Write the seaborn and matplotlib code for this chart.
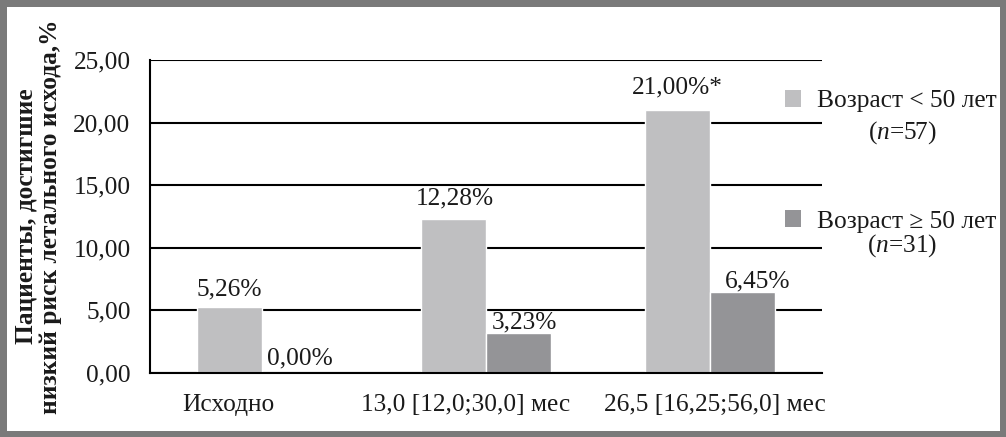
import pandas as pd
import seaborn as sns
import matplotlib.pyplot as plt
from matplotlib.patches import Patch
from matplotlib.ticker import FuncFormatter, MultipleLocator
from matplotlib.transforms import ScaledTranslation

# data
categories = ['Исходно', '13,0 [12,0;30,0] мес', '26,5 [16,25;56,0] мес']
young = [5.26, 12.28, 21.00]
old = [0.00, 3.23, 6.45]
young_labels = ['5,26%', '12,28%', '21,00%*']
old_labels = ['0,00%', '3,23%', '6,45%']
groups = ['Возраст < 50 лет', 'Возраст ≥ 50 лет']
group_n = ['57', '31']

# label offsets (points) as placed in the original
young_off = [(0, 8.6), (1, 10.8), (0, 12.2)]
old_off = [(4, 5.8), (4, 2.9), (11, 3.6)]
# category labels sit a bit off-centre in the original (pixels)
xlabel_shift = [-34, -20, 5]

LIGHT = '#bfbfc1'
DARK = '#949497'
TEXT = '#1a1a1a'
FONT = 18.3

sns.set_theme(style='white')
plt.rcParams['font.family'] = ['Liberation Serif', 'DejaVu Serif']
plt.rcParams['mathtext.fontset'] = 'custom'
plt.rcParams['mathtext.it'] = 'Liberation Serif:italic'
plt.rcParams['mathtext.rm'] = 'Liberation Serif'

df = pd.DataFrame({
    'Период': categories * 2,
    'Значение': young + old,
    'Группа': [groups[0]] * 3 + [groups[1]] * 3,
})

fig = plt.figure(figsize=(10.06, 4.37), dpi=100, linewidth=8, edgecolor='#7a7a7a')
ax = fig.add_axes([150 / 1006, 1 - 373 / 437, 672 / 1006, 313 / 437])

sns.barplot(data=df, x='Период', y='Значение', hue='Группа', hue_order=groups,
            palette=[LIGHT, DARK], width=0.58, gap=0, saturation=1,
            legend=False, ax=ax)

ax.set_ylim(0, 25)
ax.yaxis.set_major_locator(MultipleLocator(5))
ax.yaxis.set_major_formatter(FuncFormatter(lambda v, p: f'{v:.2f}'.replace('.', ',')))
ax.set_axisbelow(True)
ax.grid(axis='y', color='black', linewidth=1.5)
ax.grid(axis='x', visible=False)
for side in ['top', 'right']:
    ax.spines[side].set_visible(False)
for side in ['left', 'bottom']:
    ax.spines[side].set_color('black')
    ax.spines[side].set_linewidth(1.5)
ax.tick_params(axis='y', length=0, pad=14, labelsize=FONT, labelcolor=TEXT)
ax.tick_params(axis='x', length=0, pad=15, labelsize=FONT, labelcolor=TEXT)
for lbl, dx in zip(ax.get_xticklabels(), xlabel_shift):
    lbl.set_transform(lbl.get_transform() + ScaledTranslation(dx / 100, 0, fig.dpi_scale_trans))
ax.set_xlabel('')
ax.set_ylabel('Пациенты, достигшие\nнизкий риск летального исхода,%',
              fontsize=FONT, fontweight='bold', color=TEXT, labelpad=8,
              linespacing=1.12)

for cont, labels, offs in [(ax.containers[0], young_labels, young_off),
                           (ax.containers[1], old_labels, old_off)]:
    for bar, lab, (dx, dy) in zip(cont, labels, offs):
        ax.annotate(lab, (bar.get_x() + bar.get_width() / 2, bar.get_height()),
                    xytext=(dx, dy), textcoords='offset points',
                    ha='center', va='baseline', fontsize=FONT, color=TEXT)

handles = [Patch(facecolor=LIGHT, edgecolor='none'), Patch(facecolor=DARK, edgecolor='none')]
leg = fig.legend(handles, groups, loc='upper left', bbox_to_anchor=(785 / 1006, 1 - 90 / 437),
                 frameon=False, fontsize=FONT, handlelength=0.64, handleheight=0.64,
                 handletextpad=0.6, labelspacing=3.85, borderpad=0, borderaxespad=0)
for t in leg.get_texts():
    t.set_color(TEXT)

for n, ypix in zip(group_n, [133, 246]):
    fig.text(902 / 1006, 1 - ypix / 437, '(' + r'$\mathit{n}$' + '=' + n + ')',
             ha='center', va='center', fontsize=FONT, color=TEXT)

fig.savefig('out.png', dpi=100)
